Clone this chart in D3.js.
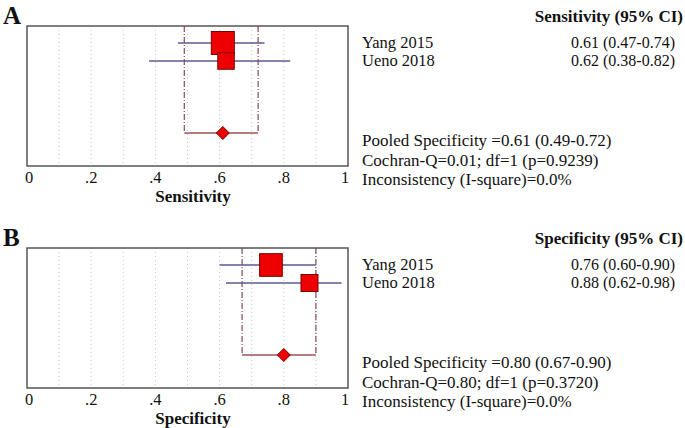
<!DOCTYPE html>
<meta charset="utf-8">
<script src="https://cdn.jsdelivr.net/npm/d3@7"></script>
<body style="margin:0;background:#fff">
<div id="chart"></div>
</body>
<style>
text { font-family: "Liberation Serif", "Times New Roman", serif; fill: #111; }
</style>
<script>

// study data
var studies = ["Yang 2015", "Ueno 2018"];

var sensEst = [0.61, 0.62],
    sensLo = [0.47, 0.38],
    sensHi = [0.74, 0.82],
    sensWeight = [0.66, 0.34],
    sensPooled = [0.61, 0.49, 0.72];

var specEst = [0.76, 0.88],
    specLo = [0.60, 0.62],
    specHi = [0.90, 0.98],
    specWeight = [0.64, 0.36],
    specPooled = [0.80, 0.67, 0.90];

var tickValues = [0, 0.2, 0.4, 0.6, 0.8, 1],
    tickLabels = ["0", ".2", ".4", ".6", ".8", "1"],
    gridValues = [0.1, 0.2, 0.3, 0.4, 0.5, 0.6, 0.7, 0.8, 0.9];

var panels = [
  { letter: "A", name: "Sensitivity", est: sensEst, lo: sensLo, hi: sensHi, w: sensWeight, pooled: sensPooled,
    lines: ["Pooled Specificity =0.61 (0.49-0.72)", "Cochran-Q=0.01; df=1 (p=0.9239)", "Inconsistency (I-square)=0.0%"] },
  { letter: "B", name: "Specificity", est: specEst, lo: specLo, hi: specHi, w: specWeight, pooled: specPooled,
    lines: ["Pooled Specificity =0.80 (0.67-0.90)", "Cochran-Q=0.80; df=1 (p=0.3720)", "Inconsistency (I-square)=0.0%"] }
];

var width = 685, height = 428;

var svg = d3.select("#chart").append("svg")
  .attr("width", width)
  .attr("height", height);

var x = d3.scaleLinear().domain([0, 1]).range([27, 348]);
var boxTop = 26, boxBottom = 166;
// rows: 0,1 = studies, 5 = pooled
var y = d3.scaleLinear().domain([0, 1]).range([boxTop + 17, boxTop + 35]);
var side = d3.scaleSqrt().domain([0, 0.66]).range([0, 23]);

var fmt = d3.format(".2f");

panels.forEach(function(p, i) {
  var g = svg.append("g").attr("transform", "translate(0," + (i * 222) + ")");

  g.append("text")
    .attr("x", 3).attr("y", 24)
    .style("font-size", "25px").style("font-weight", "bold")
    .text(p.letter);

  // grid
  g.append("g").selectAll("line")
    .data(gridValues)
    .enter().append("line")
    .attr("x1", x).attr("x2", x)
    .attr("y1", boxTop).attr("y2", boxBottom)
    .attr("stroke", "#c8c8c8")
    .attr("stroke-width", 1)
    .attr("stroke-dasharray", "1,3");

  // pooled CI bracket
  var py = y(5);
  [p.pooled[1], p.pooled[2]].forEach(function(v) {
    g.append("path")
      .attr("d", "M" + x(v) + "," + boxTop + "V" + py)
      .attr("stroke", "#84485a").attr("fill", "none")
      .attr("stroke-width", 1.2)
      .attr("stroke-dasharray", "6,2,1,2");
  });
  g.append("line")
    .attr("x1", x(p.pooled[1])).attr("x2", x(p.pooled[2]))
    .attr("y1", py).attr("y2", py)
    .attr("stroke", "#9a5555").attr("stroke-width", 1.3);

  // CI lines
  g.append("g").selectAll("line")
    .data(studies)
    .enter().append("line")
    .attr("x1", function(d, j) { return x(p.lo[j]); })
    .attr("x2", function(d, j) { return x(p.hi[j]); })
    .attr("y1", function(d, j) { return y(j); })
    .attr("y2", function(d, j) { return y(j); })
    .attr("stroke", "#5a5a90")
    .attr("stroke-width", 1.4);

  // squares
  g.append("g").selectAll("rect")
    .data(studies)
    .enter().append("rect")
    .attr("x", function(d, j) { return x(p.est[j]) - side(p.w[j]) / 2; })
    .attr("y", function(d, j) { return y(j) - side(p.w[j]) / 2; })
    .attr("width", function(d, j) { return side(p.w[j]); })
    .attr("height", function(d, j) { return side(p.w[j]); })
    .attr("fill", "#ee0000")
    .attr("stroke", "#7a0000")
    .attr("stroke-width", 1);

  // diamond
  var cx = x(p.pooled[0]);
  g.append("path")
    .attr("d", "M" + (cx - 6.5) + "," + py + "L" + cx + "," + (py - 6.5) + "L" + (cx + 6.5) + "," + py + "L" + cx + "," + (py + 6.5) + "Z")
    .attr("fill", "#ee0000")
    .attr("stroke", "#7a0000");

  // box
  g.append("rect")
    .attr("x", x(0)).attr("y", boxTop)
    .attr("width", x(1) - x(0)).attr("height", boxBottom - boxTop)
    .attr("fill", "none")
    .attr("stroke", "#555")
    .attr("stroke-width", 1.5);

  // axis labels
  g.append("g").selectAll("text")
    .data(tickValues)
    .enter().append("text")
    .attr("x", function(d) { return x(d) + (d === 1 ? -3 : d === 0 ? 2 : 0); })
    .attr("y", 183)
    .attr("text-anchor", "middle")
    .style("font-size", "16.5px")
    .text(function(d, j) { return tickLabels[j]; });

  g.append("text")
    .attr("x", 193).attr("y", 201.5)
    .attr("text-anchor", "middle")
    .style("font-size", "17px").style("font-weight", "bold")
    .text(p.name);

  // right side table
  g.append("text")
    .attr("x", 683).attr("y", 22)
    .attr("text-anchor", "end")
    .style("font-size", "17px").style("font-weight", "bold")
    .text(p.name + " (95% CI)");

  g.append("g").selectAll("text")
    .data(studies)
    .enter().append("text")
    .attr("x", 362)
    .attr("y", function(d, j) { return y(j) + 5; })
    .style("font-size", "16.5px")
    .text(function(d) { return d; });

  g.append("g").selectAll("text")
    .data(studies)
    .enter().append("text")
    .attr("x", 675)
    .attr("y", function(d, j) { return y(j) + 5; })
    .attr("text-anchor", "end")
    .style("font-size", "16px")
    .text(function(d, j) { return fmt(p.est[j]) + " (" + fmt(p.lo[j]) + "-" + fmt(p.hi[j]) + ")"; });

  g.append("g").selectAll("text")
    .data(p.lines)
    .enter().append("text")
    .attr("x", 362)
    .attr("y", function(d, j) { return 146 + j * 19.5; })
    .style("font-size", "17px")
    .text(function(d) { return d; });
});

</script>
